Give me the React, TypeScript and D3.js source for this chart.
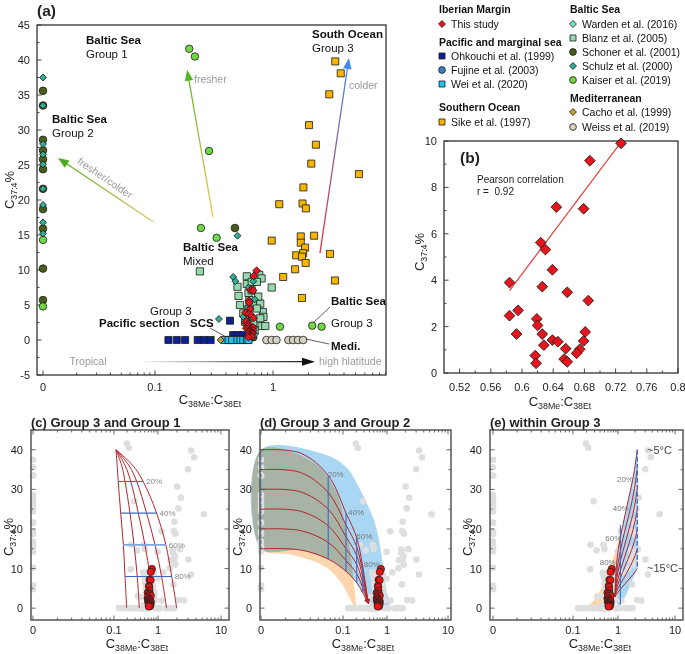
import React from "react";
import * as d3 from "d3";

type Pt = [number, number]; // [C38Me:C38Et, C37:4 %]; a ratio of 0 sits on the "0" tick

const FONT = "'Liberation Sans', Arial, Helvetica, sans-serif";
const ZERO_POS = 0.01;
const rx = (v: number) => (v === 0 ? ZERO_POS : v);

// ---------- data ----------
const thisStudyRatio = [0.727, 0.687, 0.644, 0.679, 0.624, 0.63, 0.639, 0.584, 0.626, 0.658, 0.685, 0.584, 0.595, 0.619, 0.62, 0.593, 0.626, 0.681, 0.639, 0.646, 0.628, 0.679, 0.656, 0.674, 0.67, 0.617, 0.654, 0.658, 0.618];
const thisStudyC374 = [9.9, 9.15, 7.15, 7.08, 5.62, 5.32, 4.45, 3.9, 3.72, 3.48, 3.12, 2.47, 2.7, 2.33, 2.05, 1.68, 1.68, 1.77, 1.42, 1.35, 1.2, 1.38, 1.05, 1.02, 0.85, 0.75, 0.6, 0.48, 0.42];
const thisStudy: Pt[] = thisStudyRatio.map((r, i) => [r, thisStudyC374[i]]);

const sike: Pt[] = [[3.37, 39.8], [3.75, 38.1], [3.0, 35.1], [2.02, 30.7], [2.31, 27.9], [2.11, 25.2], [5.35, 23.7], [1.81, 21.8], [1.13, 19.4], [1.78, 19.5], [1.9, 18.8], [0.975, 14.2], [1.72, 14.8], [1.72, 13.9], [2.23, 14.9], [1.87, 13.2], [1.57, 12.1], [1.8, 12.4], [1.76, 11.9], [1.89, 11.0], [3.04, 12.3], [1.54, 10.1], [1.22, 9.0], [3.35, 8.5], [1.76, 6.0]];
const blanz: Pt[] = [[0.24, 9.8], [0.6, 9.1], [0.765, 9.3], [0.8, 8.8], [0.5, 7.6], [0.6, 8.0], [0.66, 8.3], [0.73, 8.3], [0.51, 6.3], [0.62, 6.7], [0.63, 5.7], [0.68, 5.2], [0.78, 5.2], [0.82, 4.0], [0.56, 3.8], [0.62, 3.3], [0.8, 2.0], [0.86, 2.0], [0.975, 7.5], [0.83, 3.3], [0.73, 4.5], [0.525, 5.0], [0.58, 2.6], [0.68, 2.6], [0.75, 6.2], [0.66, 7.1], [0.62, 4.5], [0.78, 3.1], [0.7, 1.4]];
const schoner: Pt[] = [[0, 35.6], [0, 33.5], [0, 28.6], [0, 27.1], [0, 25.8], [0, 24.4], [0, 21.6], [0, 18.7], [0, 15.9], [0, 10.2], [0, 5.7], [0.476, 16.0], [0.68, 0.4]];
const kaiser: Pt[] = [[0, 14.3], [0, 4.8], [0.195, 41.6], [0.218, 40.5], [0.287, 27.0], [0.245, 16.0], [0.333, 14.6], [1.146, 1.9], [2.15, 2.05], [2.58, 1.9]];
const schulz: Pt[] = [[0, 37.5], [0, 33.5], [0, 28.0], [0, 26.5], [0, 25.1], [0, 21.6], [0, 19.3], [0, 16.8], [0, 15.2], [0.5, 14.9], [0.348, 3.0], [0.46, 9.0], [0.48, 8.4], [0.62, 7.5], [0.68, 8.4], [0.7, 5.8], [0.6, 4.5], [0.66, 3.1], [0.56, 3.3], [0.64, 1.3]];
const warden: Pt[] = [[0.55, 0.4], [0.6, 2.0], [0.7, 0.8]];
const ohkouchi: Pt[] = [[0.13, 0], [0.153, 0], [0.18, 0], [0.23, 0], [0.262, 0], [0.296, 0], [0.432, 2.76], [0.46, 0.7], [0.5, 0.7], [0.55, 0.7], [0.43, 0], [0.47, 0]];
const fujine: Pt[] = [[0.42, 0], [0.52, 0.3]];
const wei: Pt[] = [[0.39, 0], [0.42, 0], [0.45, 0], [0.5, 0], [0.53, 0], [0.56, 0], [0.6, 0], [0.62, 0]];
const cacho: Pt[] = [[0.36, 0]];
const weiss: Pt[] = [[0.88, 0], [0.975, 0], [1.07, 0], [1.35, 0], [1.48, 0], [1.63, 0], [1.8, 0]];

// (b) regression line ends
const fitRatio = [0.584, 0.727];
const fitC374 = [3.55, 9.95];

// (c) Group 1 -> Group 3 mixing curves: ratio at each C37:4 level
const cLevels = [40, 36, 32, 24, 16, 8, 0];
const cCurves = [
  [0.111, 0.118, 0.125, 0.142, 0.163, 0.178, 0.194],
  [0.111, 0.15, 0.178, 0.231, 0.285, 0.338, 0.376],
  [0.111, 0.18, 0.24, 0.357, 0.505, 0.66, 0.78],
  [0.111, 0.22, 0.328, 0.55, 0.855, 1.14, 1.37],
  [0.111, 0.27, 0.46, 0.93, 1.33, 1.65, 1.98],
];
const cFracIdx = [2, 3, 4, 5];
const fracLabels = ["20%", "40%", "60%", "80%"];

// (d) Group 2 -> Group 3 mixing curves
const dRatio = [0.01, 0.03, 0.066, 0.117, 0.205, 0.28, 0.376];
const dCurves = [
  [40, 39.2, 33.5, 24, 17.8, 10.5, 1.2],
  [35, 34.3, 29.2, 21, 15.5, 9.2, 1.2],
  [30, 29.4, 25, 18, 13.3, 7.9, 1.2],
  [25, 24.5, 20.8, 15, 11, 6.5, 1.2],
  [20, 19.6, 16.6, 12, 8.7, 5.2, 1.2],
  [15, 14.7, 12.4, 9.3, 6.4, 3.9, 1.2],
];
const dFracIdx = [2, 3, 4, 5];
const dBlue: Pt[] = [[0.01, 40], [0.06, 38.8], [0.12, 35.5], [0.223, 30.8], [0.53, 21.5], [0.76, 13], [0.95, 5], [1.07, 0], [0.5, 0], [0.376, 1.2], [0.28, 3.9], [0.205, 6.4], [0.117, 9.3], [0.066, 12.4], [0.03, 14.7], [0.01, 15]];
const dOrange: Pt[] = [[0.01, 40], [0.0415, 37.1], [0.08, 30], [0.11, 21.5], [0.144, 14.8], [0.17, 8], [0.194, 0.3], [0.185, 0.3], [0.096, 6.3], [0.06, 10.5], [0.0237, 13.5], [0.01, 15]];

// (e) within Group 3 mixing curves
const eCurves: Pt[][] = [
  [[2.18, 40], [1.86, 33.3], [1.52, 27.4], [1.24, 21.5], [1.01, 14.8], [0.886, 8.0], [0.86, 2.9]],
  [[2.18, 35], [1.9, 29.4], [1.6, 24.3], [1.3, 19.2], [1.06, 13.3], [0.9, 7.4], [0.86, 2.9]],
  [[2.18, 30], [1.93, 25.4], [1.65, 21.2], [1.36, 16.8], [1.1, 11.9], [0.92, 6.8], [0.86, 2.9]],
  [[2.18, 25], [1.96, 21.5], [1.7, 18.1], [1.42, 14.5], [1.15, 10.4], [0.94, 6.1], [0.86, 2.9]],
  [[2.18, 20], [2.0, 17.5], [1.75, 14.9], [1.48, 12.2], [1.2, 9.0], [0.96, 5.5], [0.86, 2.9]],
  [[2.18, 15], [2.02, 13.5], [1.8, 11.8], [1.55, 9.9], [1.26, 7.5], [0.99, 4.9], [0.86, 2.9]],
  [[2.18, 10], [2.05, 9.4], [1.86, 8.6], [1.62, 7.6], [1.32, 6.1], [1.02, 4.2], [0.86, 2.9]],
];
const eBlue: Pt[] = [[2.18, 40], [2.18, 10], [1.52, 4.6], [1.1, 0.5], [0.98, 0.5], [0.86, 2.9], [0.886, 8], [1.01, 14.8], [1.24, 21.5], [1.52, 27.4], [1.86, 33.3]];
const eOrange: Pt[] = [[0.22, 0.5], [0.35, 3], [0.55, 8], [0.8, 13], [1.24, 21.5], [1.01, 14.8], [0.886, 8], [0.86, 2.9], [0.72, 0.5]];

// ---------- styling of the sources ----------
type Shape = "circle" | "square" | "diamond";
type Src = { key: string; label: string; data: Pt[]; shape: Shape; fill: string; size: number };
const sources: Src[] = [
  { key: "sike", label: "Sike et al. (1997)", data: sike, shape: "square", fill: "#f7b500", size: 50 },
  { key: "blanz", label: "Blanz et al. (2005)", data: blanz, shape: "square", fill: "#97d9ae", size: 52 },
  { key: "schoner", label: "Schoner et al. (2001)", data: schoner, shape: "circle", fill: "#4a5d1c", size: 46 },
  { key: "kaiser", label: "Kaiser et al. (2019)", data: kaiser, shape: "circle", fill: "#70d843", size: 44 },
  { key: "schulz", label: "Schulz et al. (2000)", data: schulz, shape: "diamond", fill: "#2fae98", size: 24 },
  { key: "warden", label: "Warden et al. (2016)", data: warden, shape: "diamond", fill: "#74e6c0", size: 24 },
  { key: "fujine", label: "Fujine et al. (2003)", data: fujine, shape: "circle", fill: "#3a82bf", size: 42 },
  { key: "ohkouchi", label: "Ohkouchi et al. (1999)", data: ohkouchi, shape: "square", fill: "#0b1f96", size: 50 },
  { key: "wei", label: "Wei et al. (2020)", data: wei, shape: "square", fill: "#1ec2ec", size: 50 },
  { key: "cacho", label: "Cacho et al. (1999)", data: cacho, shape: "diamond", fill: "#bfa23e", size: 24 },
  { key: "weiss", label: "Weiss et al. (2019)", data: weiss, shape: "circle", fill: "#d6d1c2", size: 46 },
  { key: "this", label: "This study", data: thisStudy, shape: "diamond", fill: "#e8141c", size: 30 },
];
const srcByKey = Object.fromEntries(sources.map((s) => [s.key, s]));

const legendCols = [
  {
    x: 439,
    rows: [
      { title: "Iberian Margin", y: 9 }, { key: "this", y: 24 },
      { title: "Pacific and marginal sea", y: 42 }, { key: "ohkouchi", y: 56 }, { key: "fujine", y: 70 }, { key: "wei", y: 84 },
      { title: "Southern Ocean", y: 107 }, { key: "sike", y: 122 },
    ],
  },
  {
    x: 570,
    rows: [
      { title: "Baltic Sea", y: 9 }, { key: "warden", y: 24 }, { key: "blanz", y: 38 }, { key: "schoner", y: 52 }, { key: "schulz", y: 66 }, { key: "kaiser", y: 80 },
      { title: "Mediterranean", y: 98 }, { key: "cacho", y: 112 }, { key: "weiss", y: 127 },
    ],
  },
];

// ---------- helpers ----------
function Marker({ shape, cx, cy, fill, size, stroke = "#1a1a1a", sw = 0.8 }: { shape: Shape; cx: number; cy: number; fill: string; size: number; stroke?: string; sw?: number }) {
  const d = d3.symbol().type(shape === "circle" ? d3.symbolCircle : d3.symbolSquare).size(size)() || "";
  const rot = shape === "diamond" ? " rotate(45)" : "";
  return <path d={d} transform={`translate(${cx},${cy})${rot}`} fill={fill} stroke={stroke} strokeWidth={sw} />;
}

type Box = { l: number; r: number; t: number; b: number };

function Frame({ box, x, y, xMajor, xMinor, yMajor, yMinor, xFmt, yFmt, mirror, stroke, sw, fs, xLabY, yGap }: {
  box: Box; x: (v: number) => number; y: (v: number) => number; xMajor: number[]; xMinor: number[]; yMajor: number[]; yMinor: number[];
  xFmt: (v: number) => string; yFmt: (v: number) => string; mirror: boolean; stroke: string; sw: number; fs: number; xLabY: number; yGap: number;
}) {
  const tk = (len: number, cls: string) => (v: number, i: number) => {
    const px = x(v);
    return (
      <g key={cls + i}>
        <line x1={px} x2={px} y1={box.b} y2={box.b - len} />
        {mirror && <line x1={px} x2={px} y1={box.t} y2={box.t + len} />}
      </g>
    );
  };
  const tky = (len: number, cls: string) => (v: number, i: number) => {
    const py = y(v);
    return (
      <g key={cls + i}>
        <line x1={box.l} x2={box.l + len} y1={py} y2={py} />
        {mirror && <line x1={box.r} x2={box.r - len} y1={py} y2={py} />}
      </g>
    );
  };
  return (
    <g>
      <g stroke={stroke} strokeWidth={0.9}>
        {xMajor.map(tk(4.5, "xM"))}
        {xMinor.map(tk(2.5, "xm"))}
        {yMajor.map(tky(4.5, "yM"))}
        {yMinor.map(tky(2.5, "ym"))}
      </g>
      <rect x={box.l} y={box.t} width={box.r - box.l} height={box.b - box.t} fill="none" stroke={stroke} strokeWidth={sw} />
      <g fontSize={fs} fill="#222">
        {xMajor.map((v, i) => (
          <text key={"xl" + i} x={x(v)} y={xLabY} textAnchor="middle">{xFmt(v)}</text>
        ))}
        {yMajor.map((v, i) => (
          <text key={"yl" + i} x={box.l - yGap} y={y(v) + fs * 0.36} textAnchor="end">{yFmt(v)}</text>
        ))}
      </g>
    </g>
  );
}

function RatioLabel({ x, y, fs = 13 }: { x: number; y: number; fs?: number }) {
  const s = fs * 0.68;
  return (
    <text x={x} y={y} textAnchor="middle" fontSize={fs} fill="#222">
      C<tspan fontSize={s} dy={fs * 0.22}>38Me</tspan>
      <tspan dy={-fs * 0.22}>:C</tspan>
      <tspan fontSize={s} dy={fs * 0.22}>38Et</tspan>
    </text>
  );
}

function C374Label({ x, y, fs = 13 }: { x: number; y: number; fs?: number }) {
  const s = fs * 0.68;
  return (
    <text transform={`translate(${x},${y}) rotate(-90)`} textAnchor="middle" fontSize={fs} fill="#222">
      C<tspan fontSize={s} dy={fs * 0.22}>37:4</tspan>
      <tspan dy={-fs * 0.22}>%</tspan>
    </text>
  );
}

function GradArrow({ id, p1, p2, c1, c2, head = 11, hw = 8, sw = 1.3 }: { id: string; p1: [number, number]; p2: [number, number]; c1: string; c2: string; head?: number; hw?: number; sw?: number }) {
  const [x1, y1] = p1;
  const [x2, y2] = p2;
  const L = Math.hypot(x2 - x1, y2 - y1);
  const ux = (x2 - x1) / L;
  const uy = (y2 - y1) / L;
  const bx = x2 - ux * head;
  const by = y2 - uy * head;
  const pts = [[x2, y2], [bx - (uy * hw) / 2, by + (ux * hw) / 2], [bx + (uy * hw) / 2, by - (ux * hw) / 2]];
  return (
    <g>
      <defs>
        <linearGradient id={id} gradientUnits="userSpaceOnUse" x1={x1} y1={y1} x2={x2} y2={y2}>
          <stop offset="0" stopColor={c1} />
          <stop offset="1" stopColor={c2} />
        </linearGradient>
      </defs>
      <line x1={x1} y1={y1} x2={bx + ux} y2={by + uy} stroke={`url(#${id})`} strokeWidth={sw} />
      <polygon points={pts.map((p) => p.join(",")).join(" ")} fill={c2} />
    </g>
  );
}

const logMinor = [2, 3, 4, 5, 6, 7, 8, 9].flatMap((k) => [k * 0.01, k * 0.1, k]);
const logFmt = (v: number) => (v === ZERO_POS ? "0" : String(v));

// ---------- panel (a) ----------
const boxA: Box = { l: 37, r: 386, t: 25, b: 375 };
const xA = d3.scaleLog().domain([0.01, 0.1, 1, 10]).range([43, 155, 273, 391]);
const yA = d3.scaleLinear().domain([-5, 45]).range([375, 25]);

const arrowsA = [
  { id: "gFC", from: [0.096, 16.9] as Pt, to: [0.0136, 26] as Pt, c1: "#e2c65a", c2: "#4dac1d" },
  { id: "gF", from: [0.31, 17.6] as Pt, to: [0.187, 38.6] as Pt, c1: "#f2c552", c2: "#58b428" },
  { id: "gC", from: [2.5, 12.4] as Pt, to: [4.4, 40.3] as Pt, c1: "#e8303a", c2: "#3f8cf2" },
  { id: "gT", from: [0.078, -3.1] as Pt, to: [2.27, -3.1] as Pt, c1: "#f2f2f2", c2: "#111111" },
];

function PanelA() {
  const P = (p: Pt): [number, number] => [xA(rx(p[0])), yA(p[1])];
  return (
    <g>
      <Frame box={boxA} x={xA} y={yA} xMajor={[ZERO_POS, 0.1, 1]} xMinor={logMinor.filter((v) => v < 9.1)}
        yMajor={d3.range(-5, 46, 5)} yMinor={d3.range(-2.5, 45, 5)} xFmt={logFmt} yFmt={String}
        mirror={false} stroke="#333" sw={1.3} fs={11} xLabY={391} yGap={7} />
      <text x={37} y={16} fontSize={15.5} fontWeight="bold" fill="#222">(a)</text>
      <RatioLabel x={210} y={404} />
      <C374Label x={14} y={190} />

      {arrowsA.map((a) => (
        <GradArrow key={a.id} id={a.id} p1={P(a.from)} p2={P(a.to)} c1={a.c1} c2={a.c2} head={a.id === "gT" ? 13 : 11} hw={a.id === "gT" ? 8 : 8.5} />
      ))}

      {sources.map((s) =>
        s.data.map((p, i) => (
          <Marker key={s.key + i} shape={s.shape} cx={xA(rx(p[0]))} cy={yA(p[1])} fill={s.fill} size={s.size} />
        ))
      )}

      <g fontSize={11.5} fill="#111">
        <text x={86} y={44} fontWeight="bold">Baltic Sea</text>
        <text x={86} y={58}>Group 1</text>
        <text x={52} y={123} fontWeight="bold">Baltic Sea</text>
        <text x={52} y={137}>Group 2</text>
        <text x={312} y={38} fontWeight="bold">South Ocean</text>
        <text x={312} y={52}>Group 3</text>
        <text x={183} y={251} fontWeight="bold">Baltic Sea</text>
        <text x={183} y={265}>Mixed</text>
        <text x={150} y={315}>Group 3</text>
        <text x={99} y={327} fontWeight="bold">Pacific section</text>
        <text x={190} y={327} fontWeight="bold">SCS</text>
        <text x={331} y={305} fontWeight="bold">Baltic Sea</text>
        <text x={331} y={327}>Group 3</text>
        <text x={331} y={350} fontWeight="bold">Medi.</text>
      </g>
      <g stroke="#333" strokeWidth={0.8}>
        <line x1={210} y1={328} x2={226} y2={337} />
        <line x1={330} y1={307} x2={313} y2={323} />
        <line x1={306} y1={339} x2={329} y2={344} />
      </g>
      <g fontSize={10.5} fill="#9a9a9a">
        <text transform="translate(103,181) rotate(34)" textAnchor="middle">fresher/colder</text>
        <text x={194} y={83}>fresher</text>
        <text x={349} y={89}>colder</text>
        <text x={88} y={365} textAnchor="middle">Tropical</text>
        <text x={319} y={365}>high hlatitude</text>
      </g>
    </g>
  );
}

// ---------- legend ----------
function Legend() {
  return (
    <g fontSize={10.5} fill="#111">
      {legendCols.map((col, ci) =>
        col.rows.map((row, ri) =>
          "title" in row && row.title ? (
            <text key={`${ci}-${ri}`} x={col.x} y={row.y + 4} fontWeight="bold">{row.title}</text>
          ) : (
            <g key={`${ci}-${ri}`}>
              {(() => {
                const s = srcByKey[(row as { key: string }).key];
                return (
                  <>
                    <Marker shape={s.shape} cx={col.x + 3} cy={row.y} fill={s.fill} size={s.shape === "diamond" ? 24 : 36} />
                    <text x={col.x + 12} y={row.y + 3.8}>{s.label}</text>
                  </>
                );
              })()}
            </g>
          )
        )
      )}
    </g>
  );
}

// ---------- panel (b) ----------
const boxB: Box = { l: 444, r: 678, t: 141, b: 373 };
const xB = d3.scaleLinear().domain([0.5, 0.8]).range([444, 678]);
const yB = d3.scaleLinear().domain([0, 10]).range([373, 141]);

function PanelB() {
  const fit = d3.line<number>().x((r) => xB(r)).y((_, i) => yB(fitC374[i]));
  const xMaj = d3.range(8).map((i) => +(0.52 + i * 0.04).toFixed(2));
  const xMin = d3.range(7).map((i) => +(0.54 + i * 0.04).toFixed(2));
  return (
    <g>
      <Frame box={boxB} x={xB} y={yB} xMajor={xMaj} xMinor={xMin} yMajor={[0, 2, 4, 6, 8, 10]} yMinor={[1, 3, 5, 7, 9]}
        xFmt={(v) => String(v)} yFmt={String} mirror={false} stroke="#333" sw={1.3} fs={11} xLabY={391} yGap={7} />
      <text x={460} y={163} fontSize={15.5} fontWeight="bold" fill="#222">(b)</text>
      <text x={477} y={183} fontSize={10} fill="#222">Pearson correlation</text>
      <text x={477} y={195} fontSize={10} fill="#222" style={{ whiteSpace: "pre" }}>r =  0.92</text>
      <path d={fit(fitRatio) || ""} stroke="#e5413a" strokeWidth={1.2} fill="none" />
      {thisStudy.map((p, i) => (
        <Marker key={i} shape="diamond" cx={xB(p[0])} cy={yB(p[1])} fill="#e8141c" size={58} />
      ))}
      <RatioLabel x={560} y={406} />
      <C374Label x={424} y={252} />
    </g>
  );
}

// ---------- panels (c), (d), (e) ----------
const yM = d3.scaleLinear().domain([-3, 45]).range([620, 430]);
const greyPts: Pt[] = sources.filter((s) => s.key !== "this").flatMap((s) => s.data);

function MixFrame({ box, x, title, labX }: { box: Box; x: (v: number) => number; title: string; labX: number }) {
  return (
    <g>
      <Frame box={box} x={x} y={yM} xMajor={[ZERO_POS, 0.1, 1, 10]} xMinor={logMinor} yMajor={[0, 10, 20, 30, 40]} yMinor={[5, 15, 25, 35]}
        xFmt={logFmt} yFmt={String} mirror={true} stroke="#555" sw={1.5} fs={11} xLabY={634} yGap={8} />
      <text x={box.l} y={427} fontSize={13} fontWeight="bold" fill="#222">{title}</text>
      <RatioLabel x={labX} y={648} />
      <C374Label x={box.l - 18} y={537} />
    </g>
  );
}

function Dots({ x }: { x: (v: number) => number }) {
  return (
    <g>
      {greyPts.map((p, i) => (
        <circle key={"g" + i} cx={x(rx(p[0]))} cy={yM(p[1])} r={3.3} fill="#dedede" />
      ))}
    </g>
  );
}

function RedDots({ x }: { x: (v: number) => number }) {
  return (
    <g>
      {thisStudy.map((p, i) => (
        <circle key={"r" + i} cx={x(p[0])} cy={yM(p[1])} r={3.6} fill="#ee1111" stroke="#222" strokeWidth={0.8} />
      ))}
    </g>
  );
}

const boxC: Box = { l: 31, r: 229, t: 430, b: 620 };
const xC = d3.scaleLog().domain([0.01, 0.1, 1, 10]).range([33, 114, 158, 221]);

function PanelC() {
  const line = d3.line<number>().x((r) => xC(r)).y((_, i) => yM(cLevels[i])).curve(d3.curveCatmullRom);
  const first = cCurves[0];
  const last = cCurves[cCurves.length - 1];
  return (
    <g>
      <Dots x={xC} />
      {cCurves.map((c, i) => (
        <path key={i} d={line(c) || ""} fill="none" stroke="#b3262c" strokeWidth={1} />
      ))}
      {cFracIdx.map((k, i) => (
        <g key={k}>
          <line x1={xC(first[k])} x2={xC(last[k])} y1={yM(cLevels[k])} y2={yM(cLevels[k])} stroke={i === 2 ? "#7ea7de" : "#3a6bc4"} strokeWidth={i === 2 ? 1.8 : 1.1} />
          <text x={xC(last[k]) + 3} y={yM(cLevels[k]) + 3} fontSize={8} fill="#888">{fracLabels[i]}</text>
        </g>
      ))}
      <RedDots x={xC} />
      <MixFrame box={boxC} x={xC} title="(c) Group 3 and Group 1" labX={137} />
    </g>
  );
}

const boxD: Box = { l: 260, r: 451, t: 430, b: 620 };
const xD = d3.scaleLog().domain([0.01, 0.1, 1, 10]).range([261, 343, 387, 448]);

function PanelD() {
  const area = d3.line<Pt>().x((p) => xD(p[0])).y((p) => yM(p[1])).curve(d3.curveCatmullRomClosed);
  const curvePath = (ys: number[]) => d3.line<number>().x((_, i) => xD(dRatio[i])).y((v) => yM(v)).curve(d3.curveCatmullRom)(ys) || "";
  const top = dCurves[0];
  const bot = dCurves[dCurves.length - 1];
  const labPos = [[335.7, 477], [356, 515], [364.3, 539], [371.7, 567]];
  return (
    <g>
      <defs>
        <marker id="arrD" viewBox="0 0 10 10" refX="9" refY="5" markerWidth="5" markerHeight="5" orient="auto">
          <path d="M0,0 L10,5 L0,10 z" fill="#b3262c" />
        </marker>
      </defs>
      <path d={area(dOrange) || ""} fill="#fcd6ad" />
      <path d={area(dBlue) || ""} fill="#a9d6f2" style={{ mixBlendMode: "multiply" }} />
      <Dots x={xD} />
      <line x1={xD(0.01)} x2={xD(0.01)} y1={yM(40)} y2={yM(15)} stroke="#6f9fd8" strokeWidth={1.4} strokeDasharray="4,2" />
      {dCurves.map((c, i) => (
        <path key={i} d={curvePath(c)} fill="none" stroke="#b3262c" strokeWidth={1} markerEnd="url(#arrD)" />
      ))}
      {dFracIdx.map((k, i) => (
        <g key={k}>
          <line x1={xD(dRatio[k])} x2={xD(dRatio[k])} y1={yM(top[k])} y2={yM(bot[k])} stroke="#3a6bc4" strokeWidth={1.1} />
          <text x={labPos[i][0]} y={labPos[i][1]} fontSize={8} fill="#777" textAnchor="middle">{fracLabels[i]}</text>
        </g>
      ))}
      <RedDots x={xD} />
      <MixFrame box={boxD} x={xD} title="(d) Group 3 and Group 2" labX={363} />
    </g>
  );
}

const boxE: Box = { l: 490, r: 683, t: 430, b: 620 };
const xE = d3.scaleLog().domain([0.01, 0.1, 1, 10]).range([493, 573, 618, 675]);

function PanelE() {
  const poly = d3.line<Pt>().x((p) => xE(p[0])).y((p) => yM(p[1])).curve(d3.curveLinearClosed);
  const curve = d3.line<Pt>().x((p) => xE(p[0])).y((p) => yM(p[1])).curve(d3.curveCatmullRom);
  const labPos = [[625, 482], [620.7, 511], [613.3, 541], [607.7, 565]];
  return (
    <g>
      <path d={poly(eOrange) || ""} fill="#fcd6ad" />
      <path d={poly(eBlue) || ""} fill="#a9d6f2" style={{ mixBlendMode: "multiply" }} />
      <Dots x={xE} />
      {eCurves.map((c, i) => (
        <path key={i} d={curve(c) || ""} fill="none" stroke="#b3262c" strokeWidth={1} />
      ))}
      <line x1={xE(1.1)} x2={xE(1.1)} y1={yM(21)} y2={yM(1)} stroke="#3a6bc4" strokeWidth={1.1} />
      <line x1={xE(2.18)} x2={xE(2.18)} y1={yM(40)} y2={yM(10)} stroke="#3a6bc4" strokeWidth={1.3} strokeDasharray="5,2" />
      {fracLabels.map((t, i) => (
        <text key={t} x={labPos[i][0]} y={labPos[i][1]} fontSize={8} fill="#777" textAnchor="middle">{t}</text>
      ))}
      <text x={647} y={454} fontSize={11} fill="#444">~5°C</text>
      <text x={647} y={572} fontSize={11} fill="#444">~15°C</text>
      <RedDots x={xE} />
      <MixFrame box={boxE} x={xE} title="(e) within Group 3" labX={600} />
    </g>
  );
}

export default function App() {
  return (
    <svg width={685} height={654} viewBox="0 0 685 654" style={{ position: "fixed", left: 0, top: 0, background: "#fff" }} fontFamily={FONT}>
      <rect x={0} y={0} width={685} height={654} fill="#fff" />
      <PanelA />
      <Legend />
      <PanelB />
      <PanelC />
      <PanelD />
      <PanelE />
    </svg>
  );
}
